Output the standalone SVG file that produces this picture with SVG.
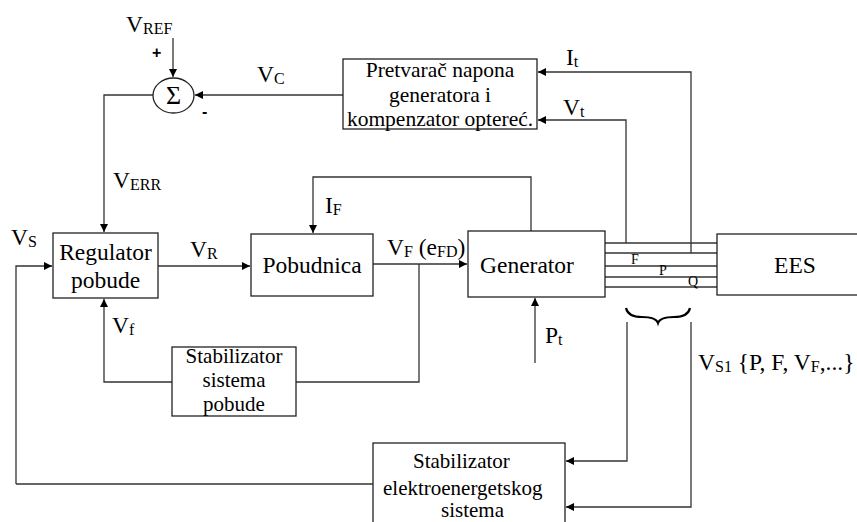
<svg xmlns="http://www.w3.org/2000/svg" width="857" height="522" viewBox="0 0 857 522" font-family="'Liberation Serif', 'Times New Roman', 'DejaVu Serif', serif">
<defs>
<marker id="ah" viewBox="0 0 10 10" refX="10" refY="5" markerWidth="9" markerHeight="8" orient="auto" markerUnits="userSpaceOnUse"><path d="M0,0 L10,5 L0,10 z" fill="#000"/></marker>
</defs>
<style>
.box{fill:#fff;stroke:#222;stroke-width:1.3}
.ln{fill:none;stroke:#333;stroke-width:1.3}
.ar{fill:none;stroke:#333;stroke-width:1.3;marker-end:url(#ah)}
.t{font-size:23.5px}
.s{font-size:21px}
.p{font-size:21.5px}
.lb{font-size:23.5px}
.sub{font-size:16px}
.sm{font-size:14px}
.sans{font-family:'Liberation Sans',Arial,sans-serif;font-size:16px;font-weight:bold}
</style>
<rect width="857" height="522" fill="#fff"/>
<g id="connectors">
<line class="ar" x1="173" y1="38" x2="173" y2="77"/>
<line class="ar" x1="343" y1="95" x2="195" y2="95"/>
<polyline class="ar" points="153,95 104,95 104,232"/>
<polyline class="ar" points="16,484 16,266 52,266"/>
<line class="ar" x1="158" y1="266" x2="250" y2="266"/>
<polyline class="ar" points="531,231 531,177 313,177 313,233"/>
<line class="ar" x1="373" y1="264" x2="467" y2="264"/>
<polyline class="ln" points="419,264 419,382 296,382"/>
<polyline class="ar" points="172,382 104,382 104,299"/>
<line class="ar" x1="535" y1="363" x2="535" y2="298"/>
<polyline class="ar" points="626,243 626,120 538,120"/>
<polyline class="ar" points="691,253 691,72 538,72"/>
<line class="ln" x1="604" y1="243" x2="717" y2="243"/>
<line class="ln" x1="605" y1="253" x2="717" y2="253"/>
<line class="ln" x1="605" y1="266" x2="717" y2="266"/>
<line class="ln" x1="605" y1="277" x2="717" y2="277"/>
<line class="ln" x1="605" y1="287" x2="717" y2="287"/>
<polyline class="ar" points="627,322 627,461 566,461"/>
<polyline class="ar" points="691,322 691,507 566,507"/>
<line class="ln" x1="16" y1="484" x2="373" y2="484"/>
<path d="M626,308 Q628,317 642,317 Q656,317 658,323 Q660,317 674,317 Q688,317 690,308" fill="none" stroke="#000" stroke-width="2.2"/>
</g>
<g id="sum">
<ellipse cx="173.5" cy="95.5" rx="20.5" ry="17.5" fill="#fff" stroke="#222" stroke-width="1.3"/>
<text x="173.5" y="104" font-size="26" text-anchor="middle">Σ</text>
</g>
<g id="pretvarac">
<rect class="box" x="343" y="59" width="194" height="70"/>
<text class="p" x="440" y="77" text-anchor="middle">Pretvarač napona</text>
<text class="p" x="440" y="102" text-anchor="middle">generatora i</text>
<text class="p" x="440" y="126" text-anchor="middle">kompenzator optereć.</text>
</g>
<g id="regulator">
<rect class="box" x="53" y="233" width="105" height="65"/>
<text class="t" x="105.5" y="260" text-anchor="middle">Regulator</text>
<text class="t" x="105.5" y="288" text-anchor="middle">pobude</text>
</g>
<g id="pobudnica">
<rect class="box" x="251" y="234" width="122" height="62"/>
<text class="t" x="312" y="273" text-anchor="middle">Pobudnica</text>
</g>
<g id="generator">
<rect class="box" x="468" y="231" width="137" height="66"/>
<text class="t" x="480" y="273">Generator</text>
</g>
<g id="ees">
<rect class="box" x="717" y="234" width="145" height="61"/>
<text class="t" x="795" y="273" text-anchor="middle">EES</text>
</g>
<g id="stab-pobude">
<rect class="box" x="172" y="347" width="124" height="69"/>
<text class="s" x="234" y="363" text-anchor="middle">Stabilizator</text>
<text class="s" x="234" y="387" text-anchor="middle">sistema</text>
<text class="s" x="234" y="411" text-anchor="middle">pobude</text>
</g>
<g id="stab-ees">
<rect class="box" x="373" y="443" width="192" height="85"/>
<text class="s" x="413" y="468">Stabilizator</text>
<text class="s" x="383" y="495">elektroenergetskog</text>
<text class="s" x="441" y="517">sistema</text>
</g>
<g id="labels">
<text class="lb" x="126" y="32">V<tspan class="sub" dy="2">REF</tspan></text>
<text class="sans" x="152" y="58">+</text>
<text class="sans" x="202" y="117">-</text>
<text class="lb" x="257" y="82">V<tspan class="sub" dy="2">C</tspan></text>
<text class="lb" x="113" y="188">V<tspan class="sub" dy="2">ERR</tspan></text>
<text class="lb" x="11" y="245">V<tspan class="sub" dy="2">S</tspan></text>
<text class="lb" x="190" y="257">V<tspan class="sub" dy="2">R</tspan></text>
<text class="lb" x="325" y="213">I<tspan class="sub" dy="2">F</tspan></text>
<text class="lb" x="387" y="255">V<tspan class="sub" dy="2" font-size="14px">F</tspan><tspan dy="-2"> (e</tspan><tspan class="sub" dy="2">FD</tspan><tspan dy="-2">)</tspan></text>
<text class="lb" x="545" y="343">P<tspan class="sub" dy="2">t</tspan></text>
<text class="lb" x="112" y="333">V<tspan class="sub" dy="2">f</tspan></text>
<text class="lb" x="566" y="65">I<tspan class="sub" dy="2">t</tspan></text>
<text class="lb" x="563" y="115">V<tspan class="sub" dy="2">t</tspan></text>
<text class="lb" x="698" y="370">V<tspan class="sub" dy="2">S1</tspan><tspan dy="-2"> {P, F, V</tspan><tspan class="sub" dy="2">F</tspan><tspan dy="-2">,...}</tspan></text>
<text class="sm" x="631" y="264">F</text>
<text class="sm" x="659" y="275">P</text>
<text class="sm" x="688" y="286">Q</text>
</g>
</svg>
